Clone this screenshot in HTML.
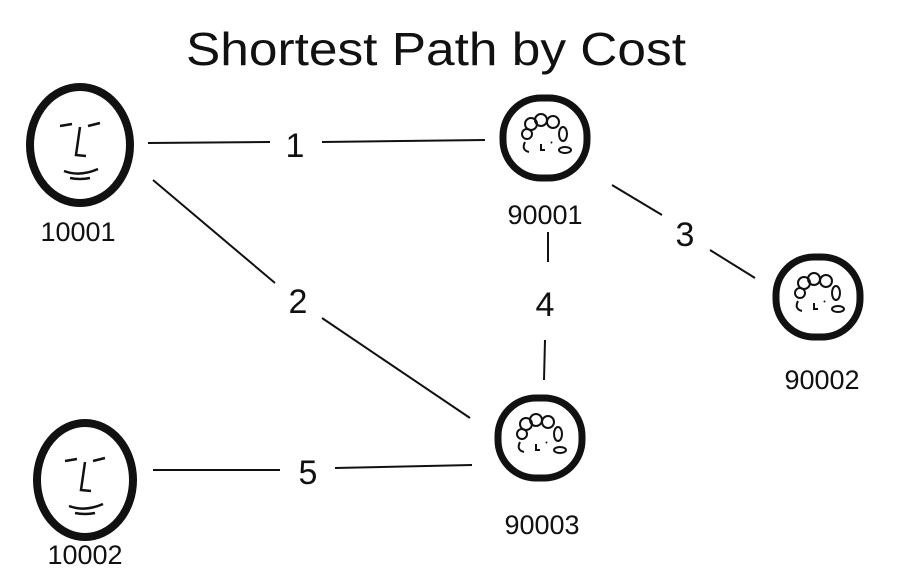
<!DOCTYPE html>
<html><head><meta charset="utf-8"><style>html,body{margin:0;padding:0;background:#fff}svg{display:block}</style></head>
<body>
<svg width="898" height="584" viewBox="0 0 898 584" xmlns="http://www.w3.org/2000/svg">
<defs>
<g id="lady" stroke="#111" fill="none">
<rect x="-42" y="-40" width="84" height="80" rx="38" stroke-width="7"/>
<circle cx="-14" cy="-14" r="6" stroke-width="2"/><circle cx="-4" cy="-18" r="6" stroke-width="2"/><circle cx="8" cy="-16" r="6" stroke-width="2"/><circle cx="-18" cy="-4" r="5" stroke-width="2"/>
<ellipse cx="18" cy="-4" rx="4" ry="7" stroke-width="2"/><ellipse cx="20" cy="12" rx="6" ry="3" stroke-width="2"/>
<path d="M-20 4 q-4 8 4 10 M-4 6 l0 6 l4 0 M6 4 l1 1" stroke-width="2"/>
</g>
</defs>
<rect width="898" height="584" fill="#fff"/>
<text x="436" y="65" font-family="Liberation Sans, sans-serif" font-size="46" text-anchor="middle" textLength="500" lengthAdjust="spacingAndGlyphs" fill="#111">Shortest Path by Cost</text>
<g stroke="#111" stroke-width="2" fill="none">
<line x1="148" y1="143" x2="270" y2="142"/><line x1="322" y1="142" x2="485" y2="140"/>
<line x1="153" y1="180" x2="275" y2="283"/><line x1="322" y1="318" x2="470" y2="418"/>
<line x1="612" y1="185" x2="662" y2="215"/><line x1="710" y1="250" x2="755" y2="278"/>
<line x1="548" y1="232" x2="548" y2="262"/><line x1="545" y1="340" x2="544" y2="380"/>
<line x1="153" y1="470" x2="280" y2="470"/><line x1="335" y1="468" x2="472" y2="465"/>
</g>
<g font-family="Liberation Sans, sans-serif" font-size="34" text-anchor="middle" fill="#111">
<text x="295" y="157">1</text><text x="298" y="313">2</text><text x="685" y="246">3</text><text x="545" y="316">4</text><text x="308" y="484">5</text>
</g>
<g font-family="Liberation Sans, sans-serif" font-size="27" text-anchor="middle" fill="#111">
<text x="78" y="241">10001</text><text x="85" y="564">10002</text>
<text x="545" y="224">90001</text><text x="822" y="389">90002</text><text x="542" y="534">90003</text>
</g>
<g stroke="#111" fill="none">
<ellipse cx="80" cy="145" rx="50" ry="58" stroke-width="8"/>
<path d="M60 126 l12 -2 M88 126 l12 -3 M80 127 l-4 28 l10 1 M64 171 q16 6 34 -2 M70 178 q10 2 20 0" stroke-width="2.5"/>
<ellipse cx="85" cy="480" rx="48" ry="57" stroke-width="8"/>
<path d="M65 461 l12 -2 M93 461 l12 -3 M85 462 l-4 28 l10 1 M69 506 q16 6 34 -2 M75 513 q10 2 20 0" stroke-width="2.5"/>
</g>
<use href="#lady" transform="translate(545,138)"/>
<use href="#lady" transform="translate(818,297)"/>
<use href="#lady" transform="translate(540,438)"/>
</svg>
</body></html>
